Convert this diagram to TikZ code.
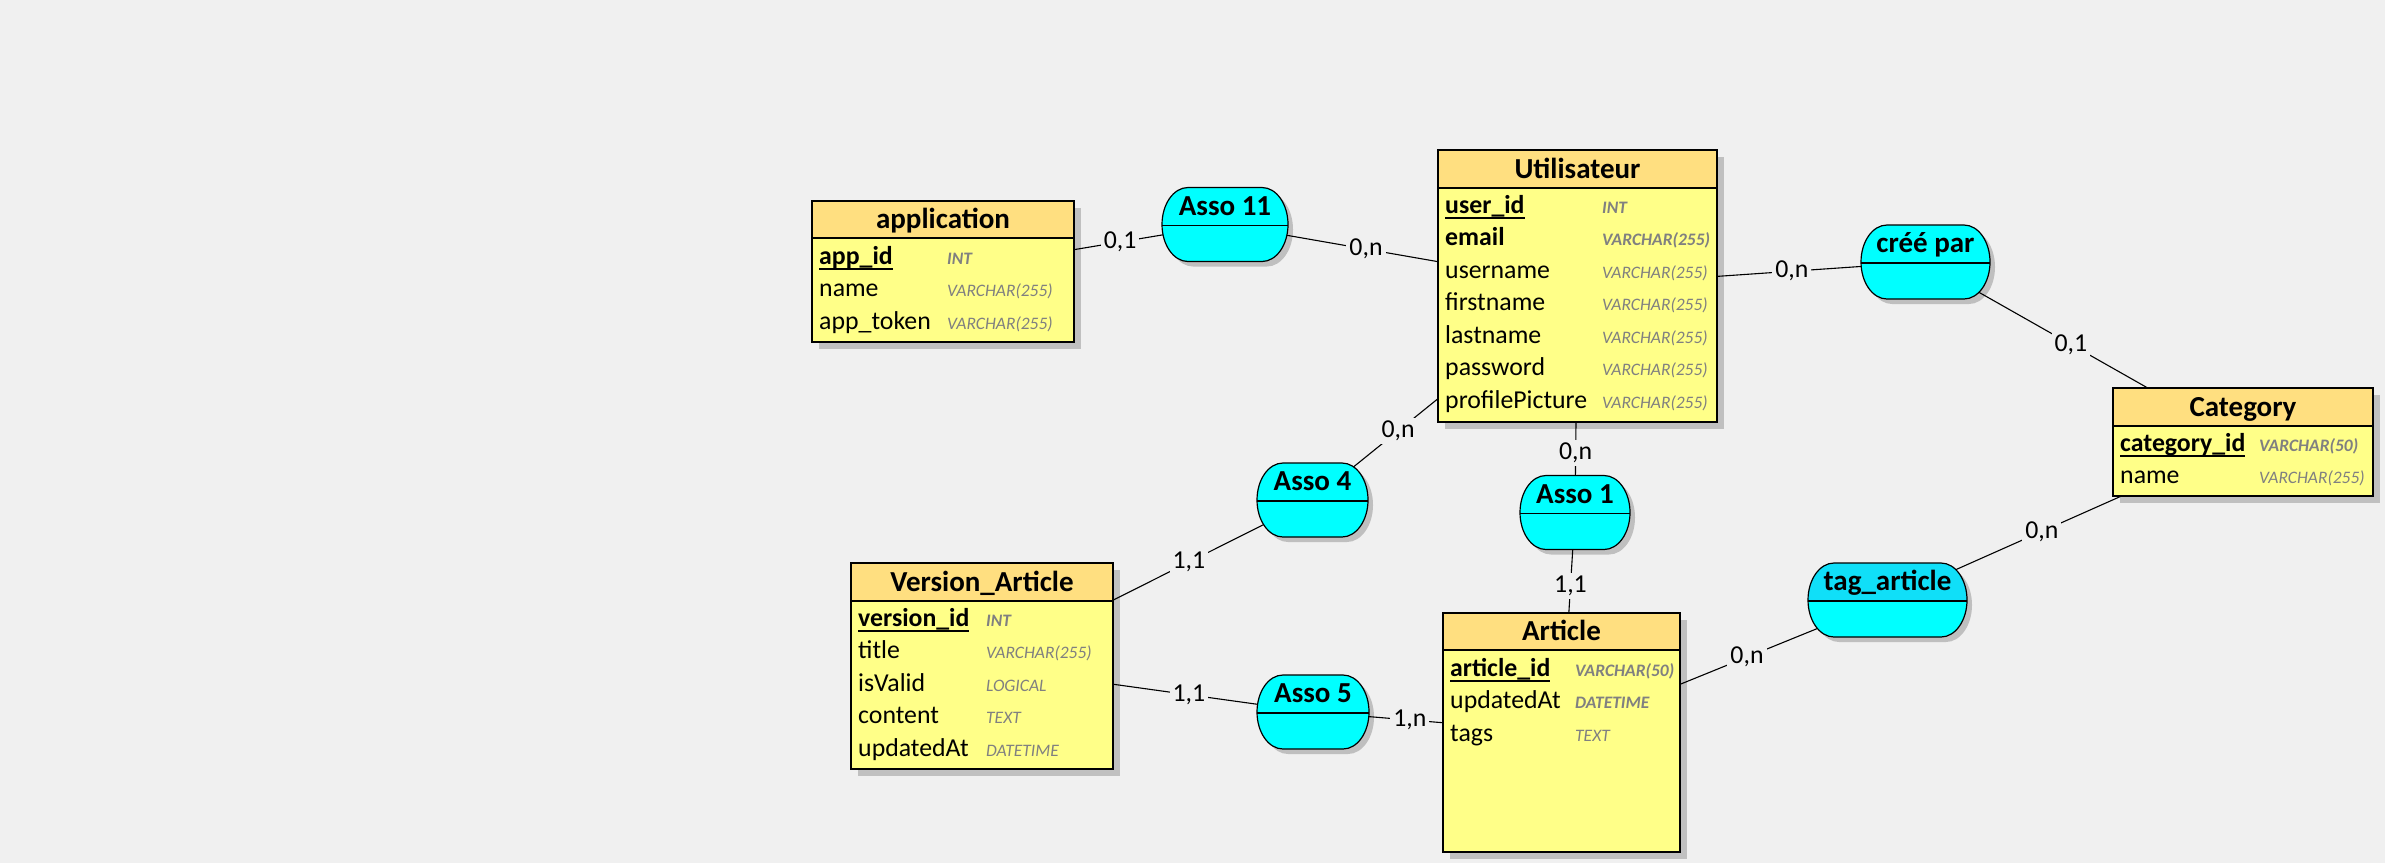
\documentclass[tikz,border=0pt]{standalone}
\usepackage{fontspec}
\setmainfont{Carlito}
\usetikzlibrary{calc}

\definecolor{bgcol}{HTML}{F0F0F0}
\definecolor{enthead}{HTML}{FFDF80}
\definecolor{entbody}{HTML}{FFFF88}
\definecolor{assofill}{HTML}{00FFFF}
\definecolor{assohl}{HTML}{10DFF8}
\definecolor{typegray}{HTML}{808080}
\definecolor{shadowgray}{HTML}{C0C0C0}

\pgfdeclarelayer{canvas}
\pgfdeclarelayer{shadows}
\pgfdeclarelayer{links}
\pgfsetlayers{canvas,shadows,links,main}

\newcommand\fattr{\fontsize{25.8}{31}\selectfont}
\newcommand\ftitle{\fontsize{29}{35}\selectfont\bfseries}
\newcommand\ftype{\fontsize{17.5}{21}\selectfont\itshape}
% identifier: bold and underlined
\newcommand\idf[1]{\setbox0=\hbox{\bfseries #1}\rlap{\rule[-5.5pt]{\wd0}{1.6pt}}\box0}

\tikzset{
  entbox/.style={rectangle, inner sep=0pt, outer sep=0pt, fill=entbody, anchor=north west},
  assobox/.style={rectangle, inner sep=0pt, outer sep=0pt, minimum height=74pt},
  titletext/.style={anchor=base, inner sep=0pt, font=\ftitle},
  attrtext/.style={anchor=base west, inner sep=0pt, font=\fattr},
  typetext/.style={anchor=base west, inner sep=0pt, font=\ftype, text=typegray},
  link/.style={draw=black, line width=1.1pt},
  card/.style={fill=bgcol, inner sep=3pt, font=\fattr},
}

% outline of an association: flat top and bottom, half-elliptic sides
\newcommand\assopath[2]{($(#1.north west)+(26+#2,#2)$) -- ($(#1.north east)+(-26+#2,#2)$)
  arc[start angle=90,end angle=-90,x radius=26pt,y radius=37pt]
  -- ($(#1.south west)+(26+#2,#2)$)
  arc[start angle=270,end angle=90,x radius=26pt,y radius=37pt] -- cycle}

% association: name, centre x, centre y, width, label, colour of the upper half
\newcommand\asso[6]{%
  \node[assobox, minimum width=#4pt] (#1) at (#2,#3) {};
  \begin{pgfonlayer}{shadows}
    \fill[black!25] \assopath{#1}{5};
  \end{pgfonlayer}
  \fill[assofill] \assopath{#1}{0};
  \begin{scope}
    \clip \assopath{#1}{0};
    \fill[#6] (#1.north west) rectangle ($(#1.east)+(0,1)$);
  \end{scope}
  \draw[line width=1.2pt] \assopath{#1}{0};
  \draw[line width=1.2pt] ($(#1.west)+(0,1)$) -- ($(#1.east)+(0,1)$);
  \node[titletext] (#1-label) at ($(#1.center)+(0,-9.5)$) {#5};
}

% entity: name, left, top, width, height, title, header height
\newcommand\entity[7]{%
  \node[entbox, minimum width=#4pt, minimum height=#5pt] (#1) at (#2,#3) {};
  \begin{pgfonlayer}{shadows}
    \fill[shadowgray] ($(#1.north west)+(6.5,6.5)$) rectangle ($(#1.south east)+(6.5,6.5)$);
  \end{pgfonlayer}
  \fill[enthead] (#1.north west) rectangle ($(#1.north east)+(0,#7)$);
  \draw[line width=1.3pt] ($(#1.north west)+(0,#7)$) -- ($(#1.north east)+(0,#7)$);
  \draw[line width=1.6pt] (#1.north west) rectangle (#1.south east);
  \node[titletext] (#1-title) at ($(#1.north)+(0,#7-9.5)$) {#6};
}

% attribute row: entity, key, row number, offset of the type column, name, type
\newcommand\attr[6]{%
  \node[attrtext] (#1-#2) at ($(#1.north west)+(7,{63+32.5*(#3-1)})$) {#5};
  \node[typetext] (#1-#2-t) at ($(#1.north west)+(#4,{63+32.5*(#3-1)})$) {#6};
}

\begin{document}
\begin{tikzpicture}[x=1pt,y=-1pt]
\useasboundingbox (0,0) rectangle (2385,863);
\begin{pgfonlayer}{canvas}
  \fill[bgcol] (0,0) rectangle (2385,863);
\end{pgfonlayer}

% entities
\entity{app}{812}{201}{262}{141}{application}{37}
\attr{app}{id}{1}{135}{\idf{app\_id}}{\textbf{INT}}
\attr{app}{name}{2}{135}{name}{VARCHAR(255)}
\attr{app}{token}{3}{135}{app\_token}{VARCHAR(255)}

\entity{util}{1438}{150}{279}{272}{Utilisateur}{38}
\attr{util}{id}{1}{164}{\idf{user\_id}}{\textbf{INT}}
\attr{util}{email}{2}{164}{\textbf{email}}{\textbf{VARCHAR(255)}}
\attr{util}{uname}{3}{164}{username}{VARCHAR(255)}
\attr{util}{fname}{4}{164}{firstname}{VARCHAR(255)}
\attr{util}{lname}{5}{164}{lastname}{VARCHAR(255)}
\attr{util}{pwd}{6}{164}{password}{VARCHAR(255)}
\attr{util}{pic}{7}{164}{profilePicture}{VARCHAR(255)}

\entity{cat}{2113}{388}{260}{108}{Category}{38}
\attr{cat}{id}{1}{146}{\idf{category\_id}}{\textbf{VARCHAR(50)}}
\attr{cat}{name}{2}{146}{name}{VARCHAR(255)}

\entity{ver}{851}{563}{262}{206}{Version\_Article}{38}
\attr{ver}{id}{1}{135}{\idf{version\_id}}{\textbf{INT}}
\attr{ver}{title}{2}{135}{title}{VARCHAR(255)}
\attr{ver}{valid}{3}{135}{isValid}{LOGICAL}
\attr{ver}{content}{4}{135}{content}{TEXT}
\attr{ver}{upd}{5}{135}{updatedAt}{DATETIME}

\entity{art}{1443}{613}{237}{239}{Article}{37}
\attr{art}{id}{1}{132}{\idf{article\_id}}{\textbf{VARCHAR(50)}}
\attr{art}{upd}{2}{132}{updatedAt}{\textbf{DATETIME}}
\attr{art}{tags}{3}{132}{tags}{TEXT}

% associations
\asso{a11}{1225}{224.5}{126}{Asso 11}{assofill}
\asso{cree}{1925.5}{262}{129}{créé par}{assofill}
\asso{a4}{1312.5}{500}{111}{Asso 4}{assofill}
\asso{a1}{1575}{512.5}{110}{Asso 1}{assofill}
\asso{a5}{1313}{712}{112}{Asso 5}{assofill}
\asso{tag}{1887.5}{600}{159}{tag\_article}{assohl}

% links with cardinalities
\begin{pgfonlayer}{links}
  \draw[link] (app.center) -- node[card,pos=0.628] (k1) {0,1} (a11.center);
  \draw[link] (a11.center) -- node[card,pos=0.40] (k2) {0,n} (util.center);
  \draw[link] (util.center) -- node[card,pos=0.616] (k3) {0,n} (cree.center);
  \draw[link] (cree.center) -- node[card,pos=0.458] (k4) {0,1} (cat.center);
  \draw[link] (util.center) -- node[card,pos=0.677] (k5) {0,n} (a4.center);
  \draw[link] (a4.center) -- node[card,pos=0.374] (k6) {1,1} (ver.center);
  \draw[link] (util.center) -- node[card,pos=0.737] (k7) {0,n} (a1.center);
  \draw[link] (a1.center) -- node[card,pos=0.334] (k8) {1,1} (art.center);
  \draw[link] (ver.center) -- node[card,pos=0.625] (k9) {1,1} (a5.center);
  \draw[link] (a5.center) -- node[card,pos=0.39] (k10) {1,n} (art.center);
  \draw[link] (art.center) -- node[card,pos=0.569] (k11) {0,n} (tag.center);
  \draw[link] (tag.center) -- node[card,pos=0.434] (k12) {0,n} (cat.center);
\end{pgfonlayer}
\end{tikzpicture}
\end{document}
